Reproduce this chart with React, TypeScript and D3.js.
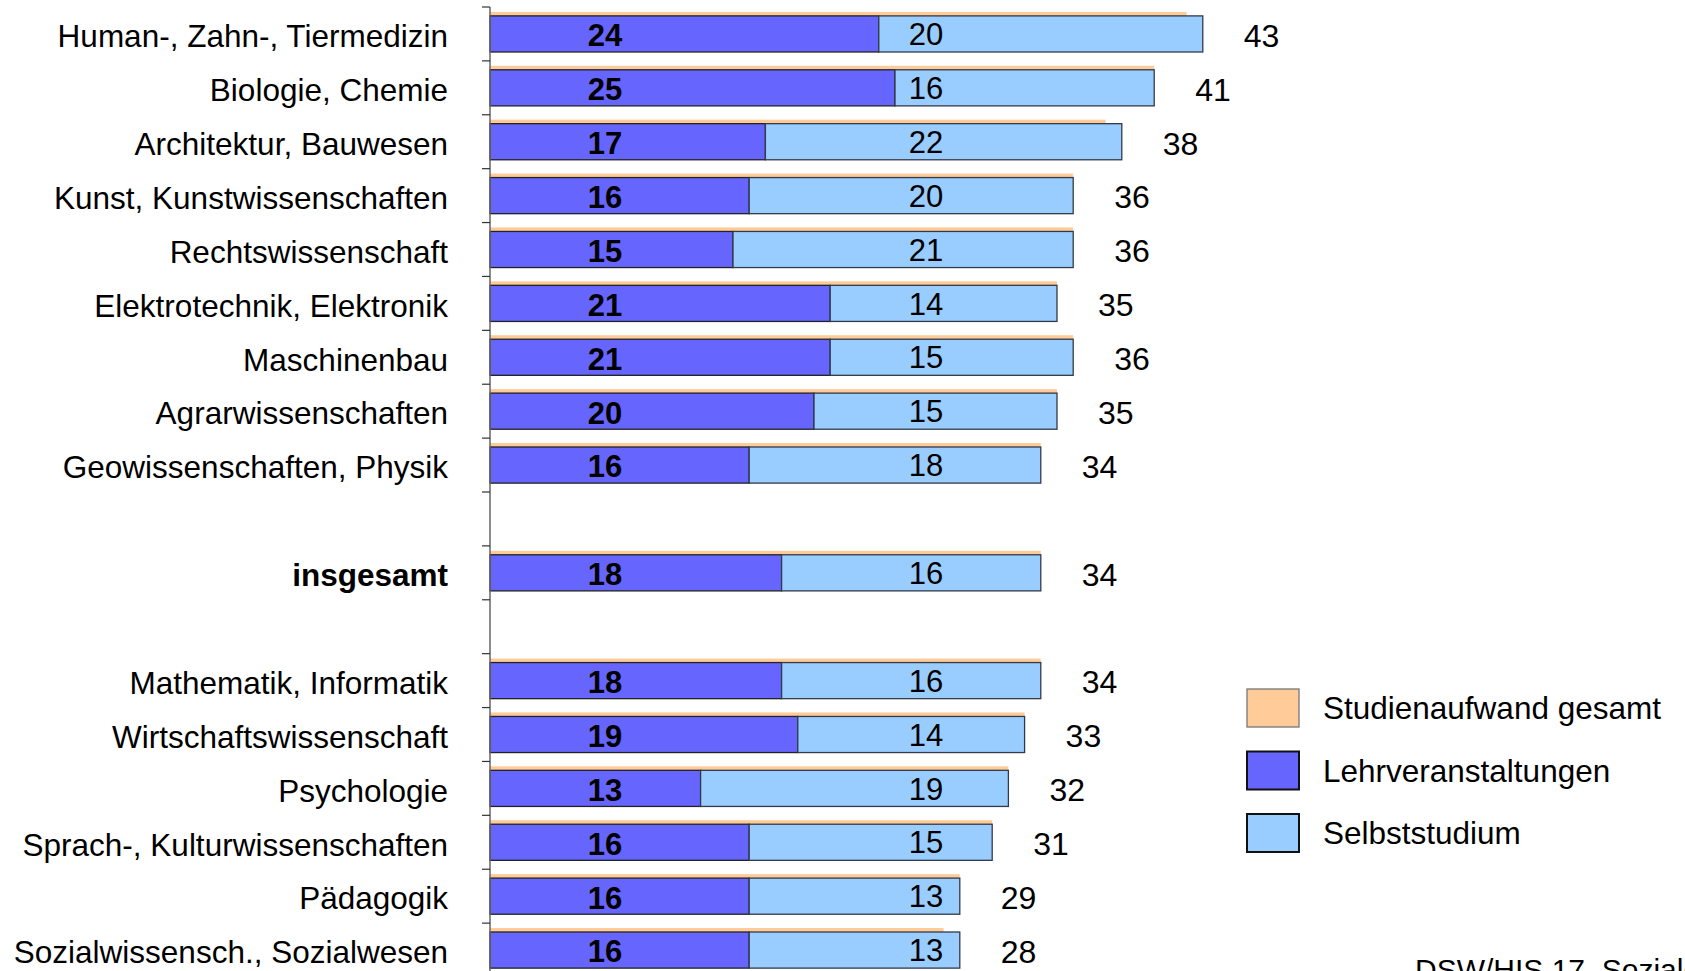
import React from "react";
import * as d3 from "d3";

// Weekly study effort (hours) by subject group
const categories = [
  "Human-, Zahn-, Tiermedizin",
  "Biologie, Chemie",
  "Architektur, Bauwesen",
  "Kunst, Kunstwissenschaften",
  "Rechtswissenschaft",
  "Elektrotechnik, Elektronik",
  "Maschinenbau",
  "Agrarwissenschaften",
  "Geowissenschaften, Physik",
  "",
  "insgesamt",
  " ",
  "Mathematik, Informatik",
  "Wirtschaftswissenschaft",
  "Psychologie",
  "Sprach-, Kulturwissenschaften",
  "Pädagogik",
  "Sozialwissensch., Sozialwesen",
];
const lehrveranstaltungen = [24, 25, 17, 16, 15, 21, 21, 20, 16, null, 18, null, 18, 19, 13, 16, 16, 16];
const selbststudium = [20, 16, 22, 20, 21, 14, 15, 15, 18, null, 16, null, 16, 14, 19, 15, 13, 13];
const gesamt = [43, 41, 38, 36, 36, 35, 36, 35, 34, null, 34, null, 34, 33, 32, 31, 29, 28];

const legendLabels = ["Studienaufwand gesamt", "Lehrveranstaltungen", "Selbststudium"];
const sourceNote = "DSW/HIS 17. Sozialerhebung";

const W = 1685;
const H = 971;
const FONT = "'Liberation Sans', Arial, Helvetica, sans-serif";
const C_TOTAL = "#FFCC99";
const C_LEHR = "#6666FF";
const C_SELBST = "#99CCFF";

export default function App() {
  const axisX = 490;
  const x = d3.scaleLinear().domain([0, 44]).range([axisX, axisX + 44 * 16.2]);
  const y = d3
    .scaleBand<string>()
    .domain(categories)
    .range([7, 977])
    .paddingInner(0.33)
    .paddingOuter(0.165);
  const bw = y.bandwidth();
  const step = y.step();
  const tickYs = categories.map((c) => (y(c) as number) - step * 0.165);
  tickYs.push(tickYs[tickYs.length - 1] + step);

  const lehrLabelX = 605;
  const selbstLabelX = 926;

  return (
    <div style={{ position: "absolute", left: 0, top: 0 }}>
      <svg width={W} height={H} style={{ display: "block", background: "#fff" }} fontFamily={FONT}>
        {/* bars */}
        {categories.map((c, i) => {
          const l = lehrveranstaltungen[i];
          const s = selbststudium[i];
          const t = gesamt[i];
          if (l == null || s == null || t == null) return null;
          const y0 = y(c) as number;
          const cy = y0 + bw / 2;
          const end = x(Math.max(t, l + s));
          return (
            <g key={c}>
              <rect x={x(0)} y={y0 - 4} width={x(t) - x(0)} height={bw} fill={C_TOTAL} />
              <rect
                x={x(0)}
                y={y0}
                width={x(l) - x(0)}
                height={bw}
                fill={C_LEHR}
                stroke="#222"
                strokeWidth={1.3}
              />
              <rect
                x={x(l)}
                y={y0}
                width={x(l + s) - x(l)}
                height={bw}
                fill={C_SELBST}
                stroke="#333a48"
                strokeWidth={1.3}
              />
              <text
                x={lehrLabelX}
                y={cy}
                dy="0.4em"
                textAnchor="middle"
                fontSize={31}
                fontWeight="bold"
                fill="#000"
              >
                {l}
              </text>
              <text x={selbstLabelX} y={cy} dy="0.36em" textAnchor="middle" fontSize={31} fill="#000">
                {s}
              </text>
              <text x={end + 41} y={cy} dy="0.4em" textAnchor="start" fontSize={32} fill="#000">
                {t}
              </text>
            </g>
          );
        })}

        {/* category axis */}
        <line x1={axisX} x2={axisX} y1={tickYs[0]} y2={H} stroke="#666" strokeWidth={1.5} />
        {tickYs.map((ty, i) => (
          <line key={i} x1={axisX - 8} x2={axisX} y1={ty} y2={ty} stroke="#333" strokeWidth={1.2} />
        ))}
        {categories.map((c) =>
          c.trim() === "" ? null : (
            <text
              key={c}
              x={448}
              y={(y(c) as number) + bw / 2}
              dy="0.42em"
              textAnchor="end"
              fontSize={31.5}
              fontWeight={c === "insgesamt" ? "bold" : "normal"}
              fill="#000"
            >
              {c}
            </text>
          )
        )}

        {/* legend */}
        {legendLabels.map((lab, i) => {
          const ly = 689 + i * 62.5;
          const fill = [C_TOTAL, C_LEHR, C_SELBST][i];
          const stroke = i === 0 ? "#777" : "#111";
          return (
            <g key={lab}>
              <rect x={1247} y={ly} width={52} height={38} fill={fill} stroke={stroke} strokeWidth={i === 0 ? 1.3 : 2} />
              <text x={1323} y={ly + 19} dy="0.36em" fontSize={31.5} fill="#000">
                {lab}
              </text>
            </g>
          );
        })}

        <text x={1415} y={980} fontSize={30} fill="#000">
          {sourceNote}
        </text>
      </svg>
    </div>
  );
}
